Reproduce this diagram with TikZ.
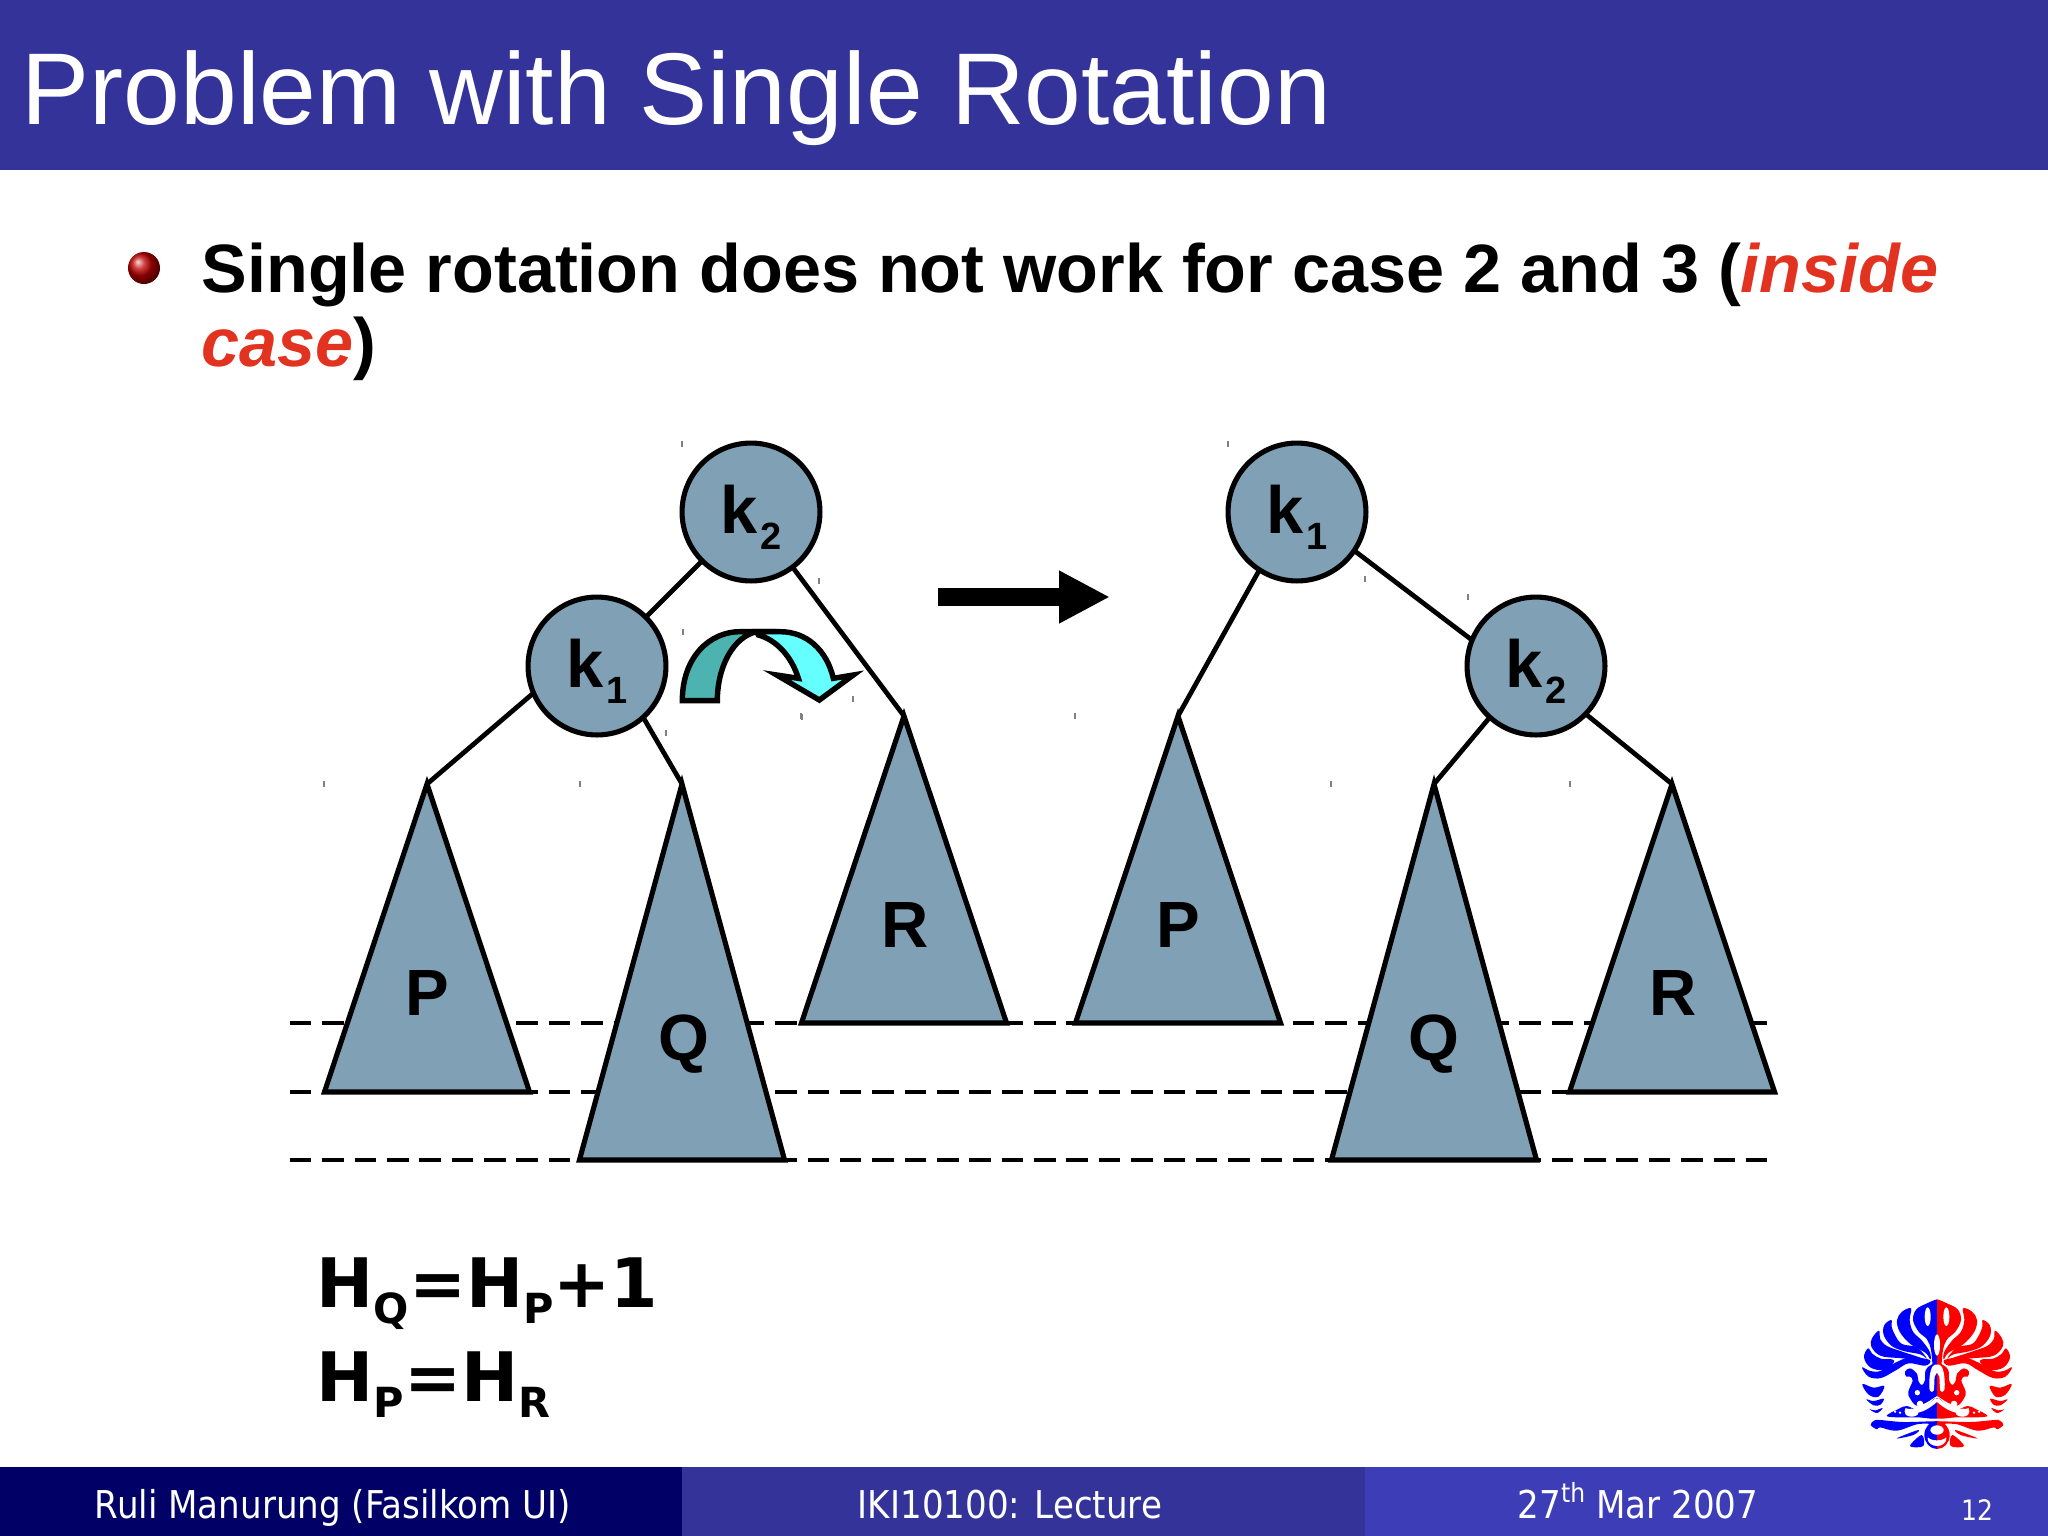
\documentclass[tikz,border=0pt]{standalone}
\usepackage{fontspec}
\setmainfont{Liberation Sans}
\newfontfamily\footfont[FakeStretch=0.89]{DejaVu Sans}
\newfontfamily\sumfont{DejaVu Sans}
\usetikzlibrary{arrows.meta,shapes.geometric}
\definecolor{titleblue}{RGB}{51,51,153}
\definecolor{footnavy}{RGB}{0,0,102}
\definecolor{footblue}{RGB}{61,61,184}
\definecolor{slate}{RGB}{128,160,181}
\definecolor{alert}{RGB}{226,50,32}
\definecolor{tealdark}{RGB}{77,179,176}
\definecolor{cyanlight}{RGB}{102,255,255}
\definecolor{logoblue}{RGB}{0,0,255}
\definecolor{logored}{RGB}{255,0,0}
\tikzset{
  treenode/.style={circle,draw=black,line width=1.45pt,fill=slate,minimum size=3.9cm/2.83,inner sep=0pt,outer sep=0pt},
  subtree/.style={isosceles triangle,isosceles triangle stretches,shape border rotate=90,draw=black,
    line width=1.45pt,fill=slate,inner sep=0pt,outer sep=0pt,minimum width=2.05cm,anchor=apex},
  letter/.style={font=\fontsize{18.6}{20}\bfseries\selectfont},
  keyletter/.style={font=\fontsize{19}{20}\bfseries\selectfont,anchor=base,inner sep=0pt},
  link/.style={line width=1.35pt},
  level/.style={line width=1.1pt,dash pattern=on 6.1pt off 3.1pt},
  footer/.style={font=\footfont\fontsize{10.9}{12}\selectfont,text=white,anchor=base},
  sums/.style={font=\sumfont\fontsize{19.4}{22}\bfseries\selectfont,anchor=base west,inner sep=0pt},
  bullet/.style={font=\fontsize{19.45}{22}\bfseries\selectfont,anchor=base west,inner sep=0pt},
  petal/.style={fill=#1},
}
\newcommand{\lowk}[1]{k\hspace{1pt}\raisebox{-4.7pt}{\fontsize{10.8}{12}\bfseries\selectfont #1}}
\newcommand{\lowh}[1]{\raisebox{-0.24em}{\fontsize{11.8}{12}\bfseries\selectfont #1}}

\begin{document}
\begin{tikzpicture}[x=0.01cm,y=-0.01cm]
    \useasboundingbox (0,0) rectangle (2048,1536);
    % bars
    \fill[titleblue] (0,0) rectangle (2048,170);
    \fill[footnavy] (0,1467) rectangle (682,1536);
    \fill[titleblue] (682,1467) rectangle (1365,1536);
    \fill[footblue] (1365,1467) rectangle (2048,1536);
    \node[anchor=base west,inner sep=0pt,text=white,font=\fontsize{29}{30}\selectfont] (title) at (21,124) {Problem with Single Rotation};
    % bullet
    \shade[ball color=red!75!black] (144,268) circle (16);
    \node[bullet] (line1) at (201,292) {Single rotation does not work for case 2 and 3 (\textcolor{alert}{\itshape inside}};
    \node[bullet] (line2) at (201,366) {\textcolor{alert}{\itshape case})};
    % height levels
    \foreach \y [count=\i] in {1023,1092,1160} {
      \coordinate (ll\i) at (290,\y);
      \coordinate (lr\i) at (1770,\y);
      \draw[level] (ll\i) -- (lr\i);
    }
    % subtrees
    \foreach \n/\x/\y/\h/\t/\tx/\ty in {
      Pa/427/784/308/P/427/1015,
      Qa/682/784/376/Q/684/1060,
      Ra/904/716/307/R/905/947,
      Pb/1178/716/307/P/1178/947,
      Qb/1434/784/376/Q/1434/1060,
      Rb/1672/784/308/R/1673/1015}
    {
      \node[subtree,minimum height=\h*0.01cm] (\n) at (\x,\y) {};
      \node[letter,anchor=base,inner sep=0pt] (\n txt) at (\tx,\ty) {\t};
    }
    % keys
    \node[treenode] (a2) at (751,512) {};
    \node[treenode] (a1) at (597,666) {};
    \node[treenode] (b1) at (1297,512) {};
    \node[treenode] (b2) at (1536,666) {};
    \node[keyletter] (a2txt) at (751,533) {\lowk{2}};
    \node[keyletter] (a1txt) at (597,687) {\lowk{1}};
    \node[keyletter] (b1txt) at (1297,533) {\lowk{1}};
    \node[keyletter] (b2txt) at (1536,687) {\lowk{2}};
    \draw[link] (a2) -- (a1);
    \draw[link] (a2.307) -- (Ra.apex);
    \draw[link] (a1.203) -- (Pa.apex);
    \draw[link] (a1.312) -- (Qa.apex);
    \draw[link] (b1.237) -- (Pb.apex);
    \draw[link] (b1.326) -- (b2.158);
    \draw[link] (b2.228) -- (Qb.apex);
    \draw[link] (b2.316) -- (Rb.apex);
    % specks
    \foreach \x/\y in {682/444,1228/444,324/784,580/784,1331/784,1570/784,1075/716,801/716,
      1365/579,1468/597,683/632,853/699,802/717,666/733,819/581}
      \draw[gray,line width=0.3pt] (\x,\y-3) -- (\x,\y+3);
    % block arrow
    \coordinate (from) at (938,597);
    \coordinate (to) at (1110,597);
    \draw[line width=5.1pt,-{Triangle[length=14.5pt,width=14pt]}] (from) -- (to);
    % bent arrow
    \begin{scope}[shift={(640,580)},x=0.01cm/3,y=-0.01cm/3,line width=1.55pt,draw=black]
      \draw[fill=tealdark] (127,362) .. controls (127,230) and (210,155) .. (300,155) -- (350,155)
        .. controls (280,170) and (232,260) .. (232,362) -- cycle;
      \draw[fill=cyanlight] (350,155) -- (420,155) .. controls (500,155) and (560,210) .. (580,295)
        -- (640,285) -- (538,360) -- (410,285) -- (475,295) .. controls (455,230) and (410,180) .. (355,165) -- cycle;
    \end{scope}
    % sums
    \node[sums] (sum1) at (316,1307) {H\lowh{Q}=H\lowh{P}+1};
    \node[sums] (sum2) at (316,1401) {H\lowh{P}=H\lowh{R}};
    % footer
    \node[footer] (foot1) at (333,1518) {Ruli Manurung (Fasilkom UI)};
    \node[footer] (foot2) at (1010,1518) {IKI10100: Lecture};
    \node[footer] (foot3) at (1638,1518) {27\raisebox{0.4em}{\fontsize{7.5}{8}\selectfont th} Mar 2007};
    \node[footer,font=\footfont\fontsize{8}{10}\selectfont] (foot4) at (1977,1520) {12};
    % logo
    \foreach \c/\s in {logoblue/1,logored/-1} {
      \begin{scope}[shift={(1937,1270)},x=\s*0.01cm/3,y=-0.01cm/3]
        \begin{scope}
          \clip (-240,60) rectangle (0,560);
          \foreach \p in {
            {(0,88) (-30,100) (-62,118) (-72,150) (-55,185) (-30,208) (-18,240) (-12,290) (0,300) (20,300) (20,88)},
            {(-78,115) (-105,125) (-120,150) (-112,185) (-80,222) (-35,248) (-20,268) (-22,245) (-45,212) (-72,185) (-82,150)},
            {(-137,150) (-158,165) (-160,195) (-137,227) (-100,243) (-50,253) (-30,266) (-60,232) (-105,222) (-126,195) (-136,170)},
            {(-174,182) (-195,205) (-197,230) (-170,257) (-115,264) (-40,268) (-110,243) (-150,228) (-170,208)},
            {(-207,235) (-219,262) (-200,292) (-160,300) (-130,278) (-135,268) (-168,266) (-193,252)},
            {(-225,292) (-205,320) (-168,324) (-122,300) (-85,280) (-35,287) (-22,270) (-80,262) (-125,278) (-170,303) (-200,303)},
            {(-224,342) (-205,374) (-176,380) (-158,348) (-190,353)},
            {(-212,388) (-190,406) (-170,404) (-160,386) (-190,393)},
            {(-202,418) (-180,429) (-163,414) (-185,421)},
            {(-96,305) (-81,295) (-61,310) (-55,335) (-45,345) (-36,330) (-34,300) (-18,285) (0,285) (8,385) (0,378) (-31,397) (-61,407) (-81,385) (-86,365) (-73,332) (-81,320) (-92,320)},
            {(-151,437) (-116,417) (-91,408) (-56,420) (-26,402) (0,385) (8,442) (-60,442) (-120,442)},
            {(-171,450) (-100,456) (0,454) (0,462) (-56,462) (-121,482) (-171,472) (-180,478) (-199,465) (-189,452)},
            {(-121,505) (-56,480) (-71,495)},
            {(-81,528) (-46,495) (-41,528)}}
          {
            \fill[petal=\c] plot[smooth cycle,tension=0.6] coordinates {\p};
          }
          \fill[\c] (0,495) ellipse (38 and 42);
          \fill[white] (0,506) ellipse (28 and 22);
          \fill[\c] (0,495) ellipse (30 and 16);
          \fill[white] (0,480) ellipse (20 and 14);
          \fill[white] (-28,140) ellipse (9 and 28);
          \fill[white] (0,225) ellipse (9 and 32);
          \fill[white] (-59,368) circle (8);
          \fill[white] (-51,402) circle (10);
          \fill[white] (-126,425) circle (4);
          \fill[white] (-111,428) circle (4);
          \fill[white] (-76,428) ellipse (20 and 12);
          \draw[white,line width=1.1pt] (-96,420) .. controls (-60,432) and (-30,415) .. (0,388);
          \fill[white] plot[smooth cycle,tension=0.6] coordinates {(0,284) (-14,290) (-22,320) (-22,360) (-10,362) (-7,320) (0,308)};
        \end{scope}
      \end{scope}
    }
  \end{tikzpicture}
\end{document}
